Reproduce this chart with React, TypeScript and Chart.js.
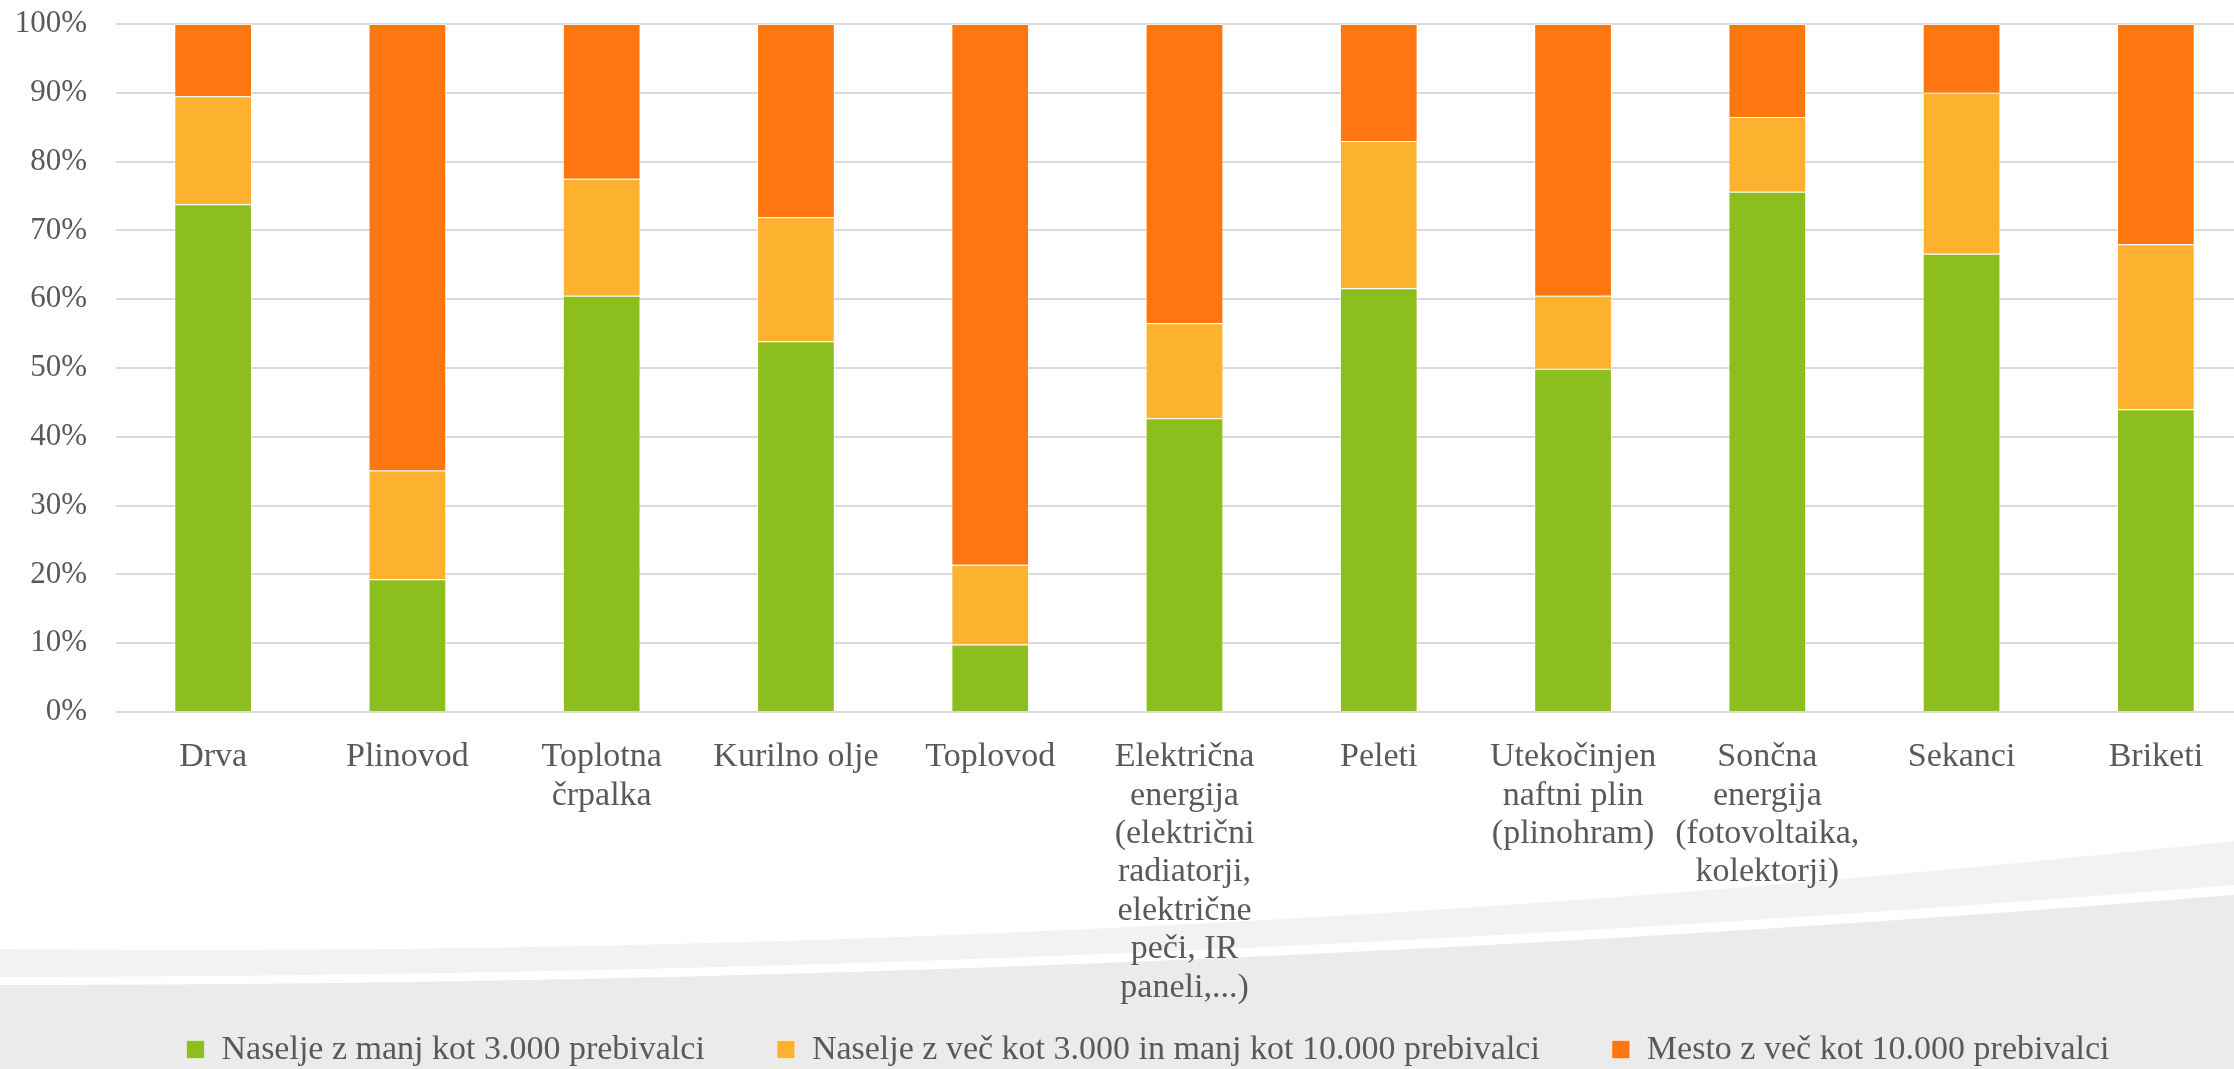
import React, { useEffect, useRef } from "react";
import { Chart, registerables } from "chart.js";

Chart.register(...registerables);

// Heating sources
const categories: (string | string[])[] = [
  "Drva",
  "Plinovod",
  ["Toplotna", "črpalka"],
  "Kurilno olje",
  "Toplovod",
  ["Električna", "energija", "(električni", "radiatorji,", "električne", "peči, IR", "paneli,...)"],
  "Peleti",
  ["Utekočinjen", "naftni plin", "(plinohram)"],
  ["Sončna", "energija", "(fotovoltaika,", "kolektorji)"],
  "Sekanci",
  "Briketi",
];

const seriesNames = [
  "Naselje z manj kot 3.000 prebivalci",
  "Naselje z več kot 3.000 in manj kot 10.000 prebivalci",
  "Mesto z več kot 10.000 prebivalci",
];

// Shares in percent (each column sums to 100)
const smallSettlement = [73.8, 19.3, 60.5, 53.9, 9.8, 42.7, 61.6, 49.9, 75.6, 66.6, 44.0];
const mediumSettlement = [15.7, 15.8, 17.0, 18.0, 11.6, 13.8, 21.4, 10.6, 10.9, 23.4, 24.0];
const largeTown = [10.5, 64.9, 22.5, 28.1, 78.6, 43.5, 17.0, 39.5, 13.5, 10.0, 32.0];

const yTicks = [0, 10, 20, 30, 40, 50, 60, 70, 80, 90, 100];

const seriesColors = ["#8cbf1e", "#fcb12f", "#fe7610"];

const CANVAS_W = 2260;
const CANVAS_H = 1069;
const FONT = "'Liberation Serif', 'Times New Roman', serif";
const TEXT = "#595959";
const LEGEND_PAD = 72;
const LEGEND_ROW_Y = 1053;

// Decorative grey swoosh across the lower part of the slide
const swooshPlugin = {
  id: "swoosh",
  beforeDraw(chart: Chart) {
    const ctx = chart.ctx;
    const w = chart.width;
    const h = chart.height;
    ctx.save();
    ctx.fillStyle = "#ffffff";
    ctx.fillRect(0, 0, w, h);
    const band = (fn: (x: number) => number, color: string) => {
      ctx.beginPath();
      ctx.moveTo(0, h);
      for (let x = 0; x <= w; x += 10) ctx.lineTo(x, fn(x));
      ctx.lineTo(w, h);
      ctx.closePath();
      ctx.fillStyle = color;
      ctx.fill();
    };
    band((x) => 949 + 0.0102 * x - 2.62e-5 * x * x, "#f2f2f2");
    band((x) => 977 - 0.001 * x - 1.8e-5 * x * x, "#ffffff");
    band((x) => 985 - 1.807e-5 * x * x, "#ebebeb");
    ctx.restore();
  },
};

// Wide item spacing in the legend needs a tall box; place the row at the bottom band
const legendPlacement = {
  id: "legendPlacement",
  afterLayout(chart: any) {
    const legend = chart.legend;
    if (!legend) return;
    const lineH = 34 * 1.2;
    legend.top = LEGEND_ROW_Y - LEGEND_PAD - lineH / 2;
    legend.bottom = chart.height;
    legend.height = legend.bottom - legend.top;
    legend.left += 14;
    legend.right += 14;
  },
};

export default function App() {
  const canvasRef = useRef<HTMLCanvasElement | null>(null);

  useEffect(() => {
    const canvas = canvasRef.current;
    if (!canvas) return;
    const values = [smallSettlement, mediumSettlement, largeTown];
    const chart = new Chart(canvas, {
      type: "bar",
      data: {
        labels: categories,
        datasets: values.map((data, i) => ({
          label: seriesNames[i],
          data,
          backgroundColor: seriesColors[i],
          borderColor: "rgba(255,255,255,0.55)",
          borderWidth: 1,
          barPercentage: 0.4,
          categoryPercentage: 1,
        })),
      },
      options: {
        responsive: false,
        animation: false,
        devicePixelRatio: 1,
        layout: { padding: { left: 15, right: 7, top: 24, bottom: 0 } },
        plugins: {
          tooltip: { enabled: false },
          legend: {
            position: "bottom",
            maxHeight: 60,
            labels: {
              boxWidth: 18,
              boxHeight: 18,
              padding: LEGEND_PAD,
              color: TEXT,
              font: { family: FONT, size: 34 },
            },
          },
        },
        scales: {
          x: {
            stacked: true,
            grid: { display: false },
            border: { display: false },
            afterFit(axis: any) {
              axis.height = 297;
              axis.paddingLeft = 0;
              axis.paddingRight = 0;
            },
            ticks: {
              color: TEXT,
              font: { family: FONT, size: 34, lineHeight: 1.13 },
              maxRotation: 0,
              autoSkip: false,
              padding: 18,
            },
          },
          y: {
            stacked: true,
            min: 0,
            max: 100,
            afterBuildTicks(axis: any) {
              axis.ticks = yTicks.map((v) => ({ value: v }));
            },
            afterFit(axis: any) {
              axis.width = 101;
              axis.paddingTop = 0;
              axis.paddingBottom = 0;
            },
            grid: { color: "#d9d9d9", lineWidth: 2, drawTicks: false },
            border: { display: false },
            ticks: {
              color: TEXT,
              font: { family: FONT, size: 31 },
              padding: 29,
              callback: (v: any) => `${v}%`,
            },
          },
        },
      },
      plugins: [swooshPlugin, legendPlacement],
    });
    return () => chart.destroy();
  }, []);

  return (
    <div
      style={{
        position: "fixed",
        left: 0,
        top: 0,
        width: "100vw",
        height: "100vh",
        overflow: "hidden",
        background: "#ffffff",
      }}
    >
      <canvas
        ref={canvasRef}
        width={CANVAS_W}
        height={CANVAS_H}
        style={{ display: "block", width: CANVAS_W, height: CANVAS_H }}
      />
    </div>
  );
}
